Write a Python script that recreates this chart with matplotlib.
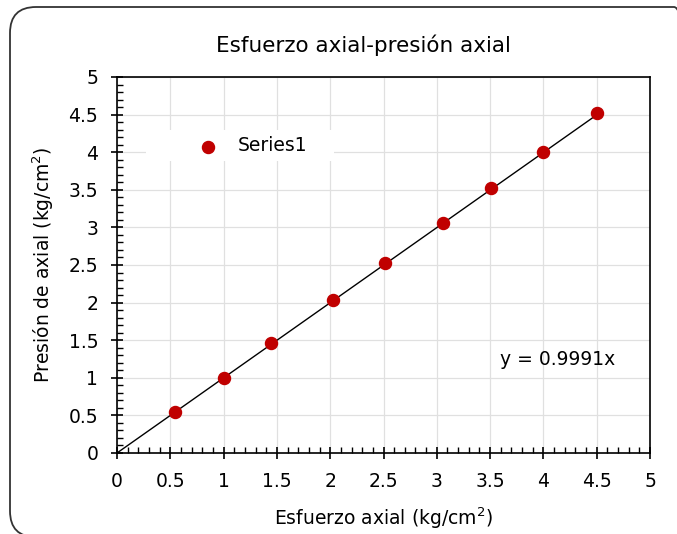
import matplotlib
matplotlib.use("Agg")
import matplotlib.pyplot as plt
import numpy as np
from matplotlib.patches import FancyBboxPatch, Rectangle
from matplotlib.ticker import MultipleLocator

x_vals = [0.545, 1.005, 1.445, 2.027, 2.515, 3.058, 3.51, 3.998, 4.505]
y_vals = [0.545, 0.998, 1.462, 2.034, 2.526, 3.058, 3.523, 4.003, 4.52]
slope = 0.9991
title = "Esfuerzo axial-presión axial"
xlabel = "Esfuerzo axial (kg/cm$^2$)"
ylabel = "Presión de axial (kg/cm$^2$)"
ticks = [0, 0.5, 1, 1.5, 2, 2.5, 3, 3.5, 4, 4.5, 5]
tick_labels = ["0", "0.5", "1", "1.5", "2", "2.5", "3", "3.5", "4", "4.5", "5"]

plt.rcParams['font.family'] = ['DejaVu Sans']
plt.rcParams['mathtext.fontset'] = 'dejavusans'

fig = plt.figure(figsize=(6.77, 5.34), dpi=100)
ax = fig.add_axes([117/677, 1-453/534, (650-117)/677, (453-77)/534])

border = FancyBboxPatch((0.10, -0.03), 6.90, 5.30,
                        boxstyle="round,pad=0,rounding_size=0.26",
                        transform=fig.dpi_scale_trans, fill=False,
                        edgecolor="#333333", linewidth=1.3, clip_on=False)
fig.patches.append(border)

FS = 13.5
ax.set_xlim(0, 5)
ax.set_ylim(0, 5)
ax.set_xticks(ticks)
ax.set_xticklabels(tick_labels)
ax.set_yticks(ticks)
ax.set_yticklabels(tick_labels)
ax.xaxis.set_minor_locator(MultipleLocator(0.1))
ax.yaxis.set_minor_locator(MultipleLocator(0.1))
ax.tick_params(which='major', direction='inout', length=8, width=1.2,
               labelsize=FS, pad=9.5, colors='black')
ax.tick_params(which='minor', direction='in', length=4, width=1.0)
ax.grid(True, which='major', color='#e0e0e0', linewidth=0.9)
ax.set_axisbelow(True)
for s in ax.spines.values():
    s.set_linewidth(1.2)
    s.set_color('black')

xl = np.array([0, max(x_vals)])
ax.plot(xl, slope * xl, color='black', linewidth=1.0, zorder=2)
ax.scatter(x_vals, y_vals, s=75, color='#c00000', zorder=3, label='Series1')

# white legend background box (axes coords from pixel layout)
ax.add_patch(Rectangle((29/533, (453-161)/376), (334-146)/533, 31/376,
                       transform=ax.transAxes, facecolor='white',
                       edgecolor='none', zorder=1.5))
leg = ax.legend(loc='center left', bbox_to_anchor=((208-117-20)/533, (453-146)/376),
                frameon=False, fontsize=FS, handletextpad=0.55,
                borderpad=0.0, borderaxespad=0, handlelength=2.1,
                markerscale=1.0)

ax.text(4.13, 1.24, "y = 0.9991x", fontsize=FS, ha='center', va='center',
        color='black')

fig.text(363/677, 1-45/534, title, fontsize=15.5, ha='center', va='center')
ax.set_xlabel(xlabel, fontsize=FS, labelpad=10.5)
ax.set_ylabel(ylabel, fontsize=FS, labelpad=9)

fig.savefig("out.png", dpi=100)
